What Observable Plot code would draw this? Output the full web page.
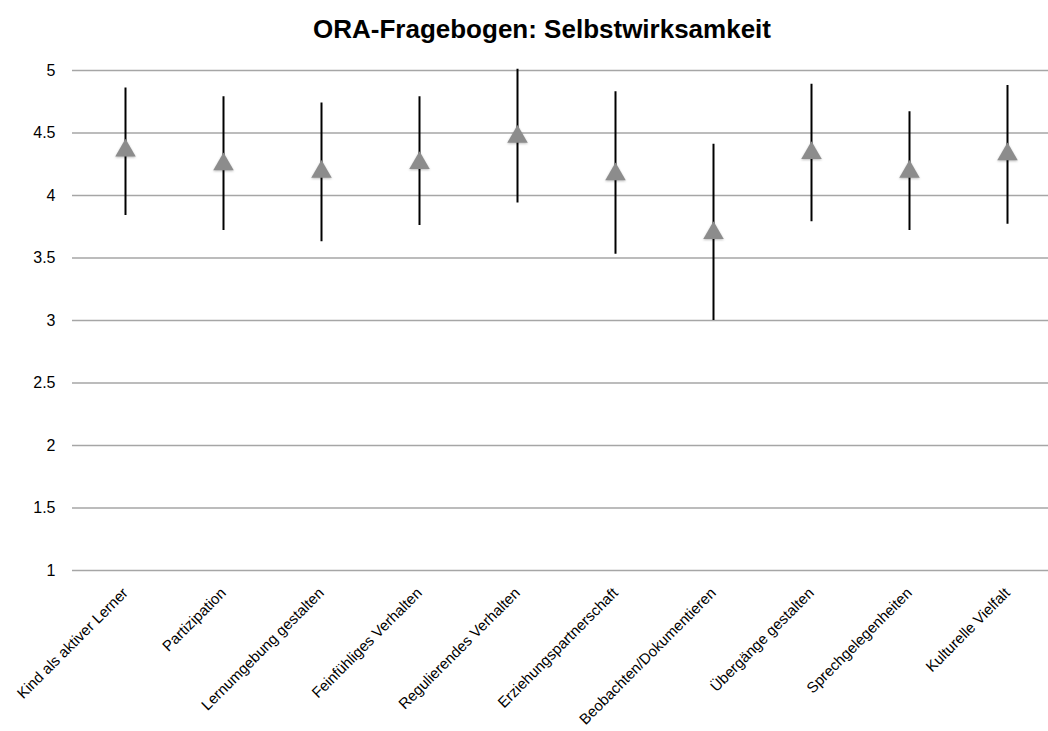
<!DOCTYPE html>
<html>
<head>
<meta charset="utf-8">
<script src="https://cdn.jsdelivr.net/npm/d3@7"></script>
<script src="https://cdn.jsdelivr.net/npm/@observablehq/plot@0.6"></script>
<style>
  html, body { margin: 0; padding: 0; background: #fff; }
  body { width: 1048px; height: 731px; overflow: hidden; font-family: "Liberation Sans", Arial, sans-serif; }
  #title { height: 55px; box-sizing: border-box; padding-top: 16px; text-align: center; font-weight: bold; font-size: 26px; line-height: 1; color: #000; padding-left: 36px; }
</style>
</head>
<body>
<div id="title">ORA-Fragebogen: Selbstwirksamkeit</div>
<div id="chart"></div>
<script>
const categories = ["Kind als aktiver Lerner", "Partizipation", "Lernumgebung gestalten", "Feinfühliges Verhalten", "Regulierendes Verhalten", "Erziehungspartnerschaft", "Beobachten/Dokumentieren", "Übergänge gestalten", "Sprechgelegenheiten", "Kulturelle Vielfalt"];
const means = [4.36, 4.25, 4.19, 4.26, 4.47, 4.17, 3.70, 4.34, 4.19, 4.33];
const lows  = [3.84, 3.72, 3.63, 3.76, 3.94, 3.53, 3.00, 3.79, 3.72, 3.77];
const highs = [4.86, 4.79, 4.74, 4.79, 5.01, 4.83, 4.41, 4.89, 4.67, 4.88];
const yTicks = [1, 1.5, 2, 2.5, 3, 3.5, 4, 4.5, 5];

const data = categories.map((c, i) => ({cat: c, mean: means[i], low: lows[i], high: highs[i]}));

const plot = Plot.plot({
  width: 1048,
  height: 676,
  marginLeft: 72,
  marginRight: 0,
  marginTop: 15,
  marginBottom: 161,
  style: {fontFamily: "'Liberation Sans', Arial, sans-serif", fontSize: "15px", color: "#000", background: "#fff"},
  x: {type: "point", domain: categories, range: [72, 1059], padding: 0.5, label: null},
  y: {domain: [1, 5], label: null},
  marks: [
    Plot.ruleY(yTicks, {stroke: "#a6a6a6", strokeWidth: 1.5}),
    Plot.axisY({ticks: yTicks, tickSize: 0, tickPadding: 17, tickFormat: d => String(d), fontSize: 16, line: true, stroke: "#a6a6a6", strokeWidth: 1.5}),
    Plot.axisX({tickSize: 0, tickRotate: -45, tickPadding: 20, fontSize: 15}),
    Plot.ruleX(data, {x: "cat", y1: "low", y2: "high", stroke: "#000", strokeWidth: 2}),
    Plot.dot(data, {x: "cat", y: "mean", symbol: "triangle", r: 7.6, fill: "#8c8c8c", stroke: "none"})
  ]
});
document.getElementById("chart").appendChild(plot);
d3.select(plot).selectAll("g[aria-label='dot'] path").style("filter", "blur(0.6px) drop-shadow(0px 1px 1px rgba(0,0,0,0.25))");
</script>
</body>
</html>
